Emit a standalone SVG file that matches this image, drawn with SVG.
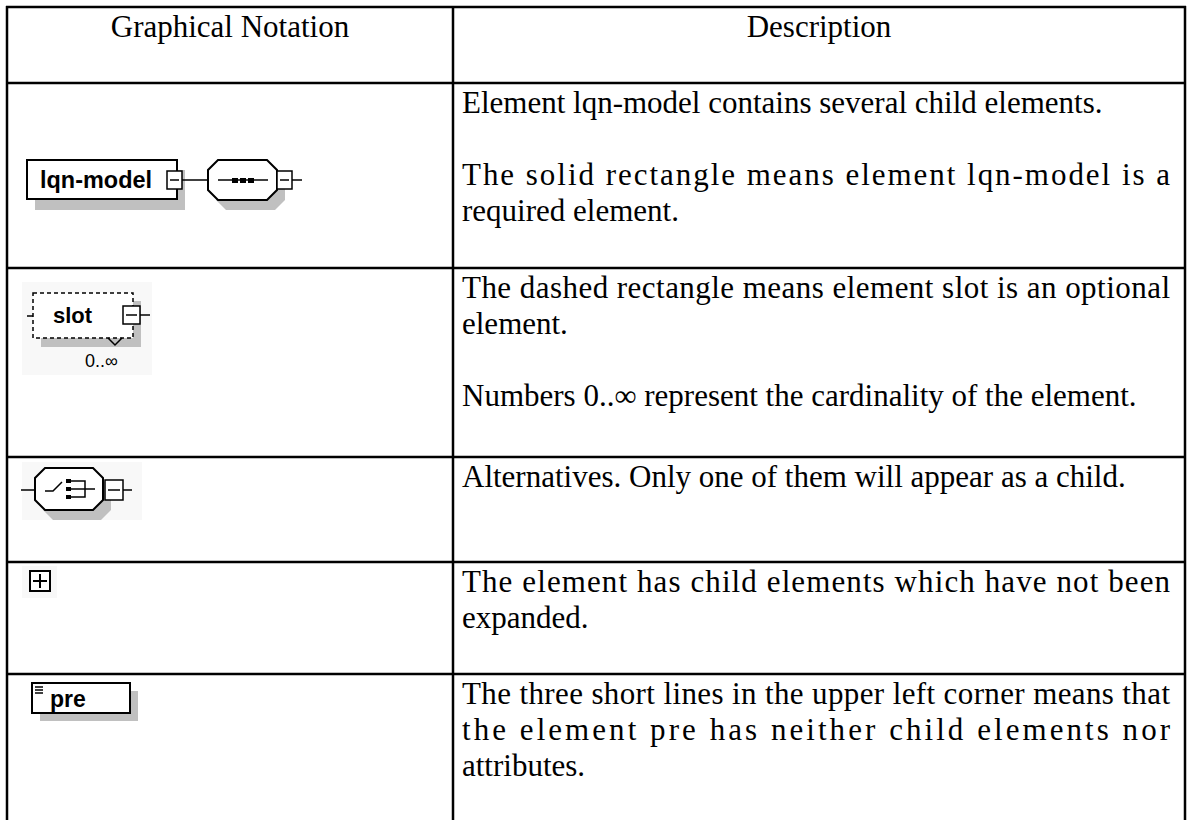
<svg xmlns="http://www.w3.org/2000/svg" width="1187" height="820" viewBox="0 0 1187 820">
<style>
.grid{stroke:#000;stroke-width:2.5;fill:none}
.t{font-family:"Liberation Serif","Times New Roman",serif;font-size:31px;fill:#000}
.b{font-family:"Liberation Sans",Arial,sans-serif;font-weight:bold;fill:#000}
.sh{fill:#c0c0c0}
.bg{fill:#f8f8f8}
.box{fill:#fff;stroke:#000;stroke-width:2}
.thin{stroke:#000;stroke-width:1.5;fill:none}
.sq{fill:#fff;stroke:#000;stroke-width:1.5}
</style>
<rect width="1187" height="820" fill="#fff"/>
<g id="table">
<line class="grid" x1="6" y1="7" x2="1186" y2="7"/>
<line class="grid" x1="7" y1="6" x2="7" y2="820"/>
<line class="grid" x1="453" y1="6" x2="453" y2="820"/>
<line class="grid" x1="1185" y1="6" x2="1185" y2="820"/>
<line class="grid" x1="6" y1="83" x2="1186" y2="83"/>
<line class="grid" x1="6" y1="268" x2="1186" y2="268"/>
<line class="grid" x1="6" y1="457" x2="1186" y2="457"/>
<line class="grid" x1="6" y1="562" x2="1186" y2="562"/>
<line class="grid" x1="6" y1="674" x2="1186" y2="674"/>
</g>
<g id="header">
<text class="t" x="230" y="37" text-anchor="middle">Graphical Notation</text>
<text class="t" x="819" y="37" text-anchor="middle">Description</text>
</g>
<g id="row1-lqn-model">
<rect class="sh" x="35" y="170" width="150" height="40"/>
<rect class="box" x="27" y="160" width="150" height="39"/>
<text class="b" x="40" y="188" font-size="24" textLength="112" lengthAdjust="spacingAndGlyphs">lqn-model</text>
<rect class="sq" x="167" y="171" width="15" height="18"/>
<line class="thin" x1="170" y1="180" x2="179" y2="180"/>
<line class="thin" x1="182" y1="180" x2="208" y2="180"/>
<polygon class="sh" points="226,170 275,170 285,180 285,200 275,210 226,210 216,200 216,180"/>
<polygon class="box" points="218,160 267,160 277,170 277,190 267,200 218,200 208,190 208,170" stroke-width="1.5"/>
<line class="thin" x1="218" y1="180" x2="268" y2="180"/>
<rect x="232" y="178" width="6" height="5" fill="#000"/>
<rect x="240" y="178" width="6" height="5" fill="#000"/>
<rect x="248" y="178" width="6" height="5" fill="#000"/>
<rect class="sq" x="277" y="171" width="15" height="18"/>
<line class="thin" x1="280" y1="180" x2="289" y2="180"/>
<line class="thin" x1="292" y1="180" x2="302" y2="180"/>
</g>
<g id="row1-text">
<text class="t" x="462" y="113">Element lqn-model contains several child elements.</text>
<text class="t" x="462" y="185" textLength="708" lengthAdjust="spacing">The solid rectangle means element lqn-model is a</text>
<text class="t" x="462" y="221">required element.</text>
</g>
<g id="row2-slot">
<rect class="bg" x="22" y="282" width="130" height="93"/>
<rect class="sh" x="41" y="301" width="100" height="46"/>
<rect x="33" y="293" width="100" height="45" fill="#fff" stroke="#000" stroke-width="1.5" stroke-dasharray="4 3"/>
<line class="thin" x1="27" y1="316" x2="33" y2="316"/>
<text class="b" x="53" y="323" font-size="22">slot</text>
<rect class="sq" x="123" y="306" width="17" height="18"/>
<line class="thin" x1="126" y1="315" x2="137" y2="315"/>
<line class="thin" x1="140" y1="315" x2="150" y2="315"/>
<path class="thin" d="M108,338 L115,345 L122,338" stroke-width="1"/>
<text x="85" y="367" font-family="Liberation Sans, Arial, sans-serif" font-size="18">0..∞</text>
</g>
<g id="row2-text">
<text class="t" x="462" y="298" textLength="708" lengthAdjust="spacing">The dashed rectangle means element slot is an optional</text>
<text class="t" x="462" y="334">element.</text>
<text class="t" x="462" y="406">Numbers 0..∞ represent the cardinality of the element.</text>
</g>
<g id="row3-choice">
<rect class="bg" x="22" y="462" width="120" height="58"/>
<line class="thin" x1="21" y1="490" x2="35" y2="490"/>
<polygon class="sh" points="53,478 101,478 111,488 111,510 101,520 53,520 43,510 43,488"/>
<polygon class="box" points="45,468 93,468 103,478 103,500 93,510 45,510 35,500 35,478" stroke-width="1.5"/>
<polyline class="thin" points="45,491 53,491 62,482"/>
<rect x="66" y="479" width="5" height="4" fill="#000"/>
<rect x="66" y="487" width="5" height="4" fill="#000"/>
<rect x="66" y="495" width="5" height="4" fill="#000"/>
<polyline class="thin" points="71,481 85,481 85,497 71,497"/>
<line class="thin" x1="71" y1="489" x2="95" y2="489"/>
<rect class="sq" x="105" y="480" width="18" height="20"/>
<line class="thin" x1="108" y1="490" x2="120" y2="490"/>
<line class="thin" x1="123" y1="490" x2="132" y2="490"/>
</g>
<g id="row3-text">
<text class="t" x="462" y="487">Alternatives. Only one of them will appear as a child.</text>
</g>
<g id="row4-plus">
<rect class="bg" x="22" y="566" width="35" height="32"/>
<rect x="30" y="571" width="20" height="20" fill="#fff" stroke="#000" stroke-width="2"/>
<line x1="33" y1="581" x2="47" y2="581" stroke="#000" stroke-width="2"/>
<line x1="40" y1="574" x2="40" y2="588" stroke="#000" stroke-width="2"/>
</g>
<g id="row4-text">
<text class="t" x="462" y="592" textLength="708" lengthAdjust="spacing">The element has child elements which have not been</text>
<text class="t" x="462" y="628">expanded.</text>
</g>
<g id="row5-pre">
<rect class="sh" x="40" y="691" width="98" height="30"/>
<rect class="box" x="32" y="683" width="98" height="30"/>
<line class="thin" x1="35" y1="687" x2="43" y2="687"/>
<line class="thin" x1="35" y1="690" x2="43" y2="690"/>
<line class="thin" x1="35" y1="693" x2="43" y2="693"/>
<text class="b" x="50" y="707" font-size="23">pre</text>
</g>
<g id="row5-text">
<text class="t" x="462" y="704" textLength="708" lengthAdjust="spacing">The three short lines in the upper left corner means that</text>
<text class="t" x="462" y="740" textLength="708" lengthAdjust="spacing">the element pre has neither child elements nor</text>
<text class="t" x="462" y="776">attributes.</text>
</g>
</svg>
